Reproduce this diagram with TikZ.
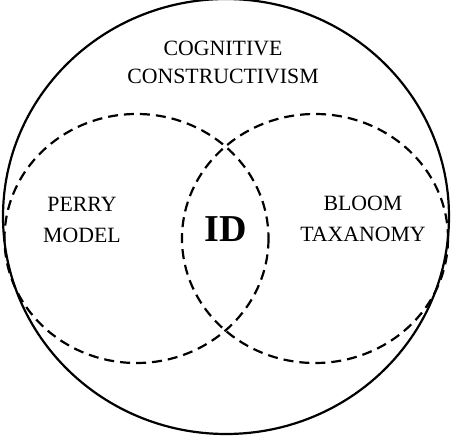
\documentclass[tikz,border=0pt]{standalone}
\usepackage{fontspec}
\setmainfont{Liberation Serif}
\begin{document}
\begin{tikzpicture}[x=1pt,y=-1pt,
  outer/.style={draw=black,line width=2.2pt},
  inner/.style={draw=black,line width=2.2pt,dash pattern=on 10pt off 6pt},
  lbl/.style={font=\fontsize{21.8}{28}\selectfont,align=center,inner sep=0pt},
  sidelbl/.style={font=\fontsize{21.8}{31.5}\selectfont,align=center,inner sep=0pt},
  idlbl/.style={font=\fontsize{38}{40}\selectfont\bfseries,inner sep=0pt}]
\useasboundingbox (0,0) rectangle (453,438);
\draw[outer] (226,216.5) ellipse [x radius=223, y radius=217.5];
\draw[inner] (136.5,238.5) ellipse [x radius=132, y radius=124.5];
\draw[inner] (315,238.5) ellipse [x radius=133, y radius=124.5];
\node[lbl] (cc) at (223,62) {COGNITIVE\\CONSTRUCTIVISM};
\node[sidelbl] (perry) at (82,220) {PERRY\\MODEL};
\node[sidelbl] (bloom) at (363,219) {BLOOM\\TAXANOMY};
\node[idlbl] (id) at (226,229) {ID};
\end{tikzpicture}
\end{document}
